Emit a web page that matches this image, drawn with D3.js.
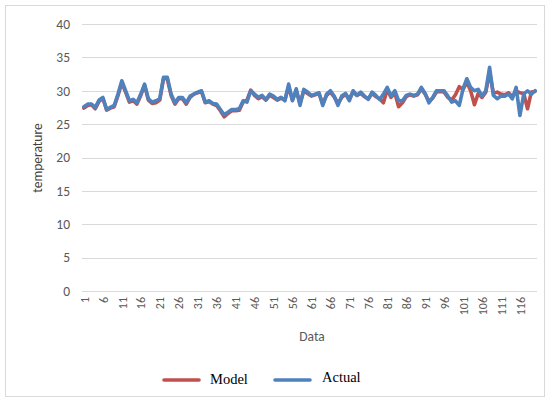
<!DOCTYPE html>
<html><head><meta charset="utf-8">
<script src="https://cdn.jsdelivr.net/npm/d3@7"></script>
<style>body{margin:0;background:#fff}svg{display:block}</style>
</head><body><svg id="c" width="549" height="401"></svg>
<script>
const categories = d3.range(1, 121);
const actual = [27.6,28,28,27.5,28.6,29,27.2,27.5,27.8,29.5,
31.5,30,28.5,28.7,28.2,29.5,31,28.8,28.3,28.5,
28.8,32,32,29.5,28.2,29,29,28.2,29.2,29.5,
29.8,30,28.3,28.5,28.1,28,27.2,26.4,26.8,27.2,
27.2,27.3,28.5,28.3,30,29.5,29,29.3,28.7,29.5,
29.2,28.7,29,28.5,31,28.5,30.3,27.8,30.2,29.8,
29.3,29.5,29.7,27.8,29.5,30,29.2,27.8,29.2,29.6,
28.5,30,29.3,29.8,29.2,28.7,29.8,29.3,28.7,29.5,
30.5,29.2,30,28.5,28.5,29.3,29.5,29.3,29.5,30.5,
29.6,28.2,29,30,30,30,29.2,28.3,28.5,27.8,
30.3,31.8,30.5,30,30.2,29.2,30,33.5,29.3,28.8,
29.2,29.2,29.5,28.8,30.5,26.3,29.5,30,29.5,30];
const model = [27.4,27.8,27.9,27.3,28.4,28.9,27.1,27.4,27.6,29.3,
31.2,29.8,28.3,28.5,28.0,29.3,30.8,28.6,28.1,28.2,
28.6,31.8,31.8,29.3,28.0,28.8,28.8,28.0,29.0,29.5,
29.7,29.9,28.2,28.4,28.0,27.8,27.0,26.1,26.6,27.0,
27.0,27.1,28.3,28.6,30.1,29.3,28.8,29.1,28.6,29.3,
29.0,28.6,28.9,28.6,30.6,28.6,30.0,28.1,30.0,29.6,
29.2,29.4,29.6,28.0,29.3,29.8,29.1,28.1,29.0,29.5,
28.8,29.8,29.3,29.6,29.1,28.8,29.6,29.1,28.8,28.2,
30.2,29.0,29.7,27.6,28.2,29.1,29.4,29.2,29.4,30.3,
29.5,28.4,28.9,29.8,29.9,29.8,29.0,28.6,29.4,30.6,
30.2,31.3,30.0,27.9,29.6,29.0,29.8,32.8,29.6,29.8,
29.5,29.4,29.7,29.1,30.0,29.7,29.6,27.3,29.8,29.9];
const yTicks = [0,5,10,15,20,25,30,35,40];
const xTickLabels = categories.filter((d,i)=>i%5===0);
const seriesNames = ["Model","Actual"];
const colors = ["#C0504D","#4F81BD"];

const svg = d3.select("#c");
svg.append("rect").attr("x",5.5).attr("y",5.5).attr("width",539).attr("height",391)
  .attr("fill","#fff").attr("stroke","#d9d9d9");

const x = d3.scalePoint().domain(categories).range([82,537]).padding(0.5);
const y = d3.scaleLinear().domain([0,40]).range([291,24]);

const g = svg.append("g");
g.selectAll("line.grid").data(yTicks).join("line")
  .attr("x1",82).attr("x2",537).attr("y1",d=>Math.round(y(d))+0.5).attr("y2",d=>Math.round(y(d))+0.5)
  .attr("stroke","#d9d9d9").attr("stroke-width",1);

const yAxis = d3.axisLeft(y).tickValues(yTicks).tickSize(0).tickPadding(0);
const ya = svg.append("g").attr("transform","translate(70,0)").call(yAxis);
ya.select(".domain").remove();
ya.selectAll("text").attr("font-family","Calibri, Carlito, 'Liberation Sans', Arial, sans-serif")
  .attr("font-size",13.5).attr("fill","#595959");

const xAxis = d3.axisBottom(x).tickValues(xTickLabels).tickSize(0).tickPadding(0);
const xa = svg.append("g").attr("transform","translate(0,295)").call(xAxis);
xa.select(".domain").remove();
xa.selectAll("text").attr("font-family","Calibri, Carlito, 'Liberation Sans', Arial, sans-serif")
  .attr("font-size",12).attr("fill","#595959")
  .attr("transform","rotate(-90)").attr("text-anchor","end").attr("dy","0.35em").attr("dx","0")
  .attr("x",-2).attr("y",0);

const line = d3.line().x((d,i)=>x(categories[i])).y(d=>y(d));
[model, actual].forEach((s,k)=>{
  svg.append("path").datum(s).attr("d",line).attr("fill","none")
    .attr("stroke",colors[k]).attr("stroke-width",3.6).attr("stroke-linejoin","round").attr("stroke-linecap","round");
});

svg.append("text").attr("transform","translate(42,158) rotate(-90)").attr("text-anchor","middle")
  .attr("font-family","Calibri, Carlito, 'Liberation Sans', Arial, sans-serif").attr("font-size",13.5).attr("fill","#404040")
  .text("temperature");
svg.append("text").attr("x",312).attr("y",341).attr("text-anchor","middle")
  .attr("font-family","Calibri, Carlito, 'Liberation Sans', Arial, sans-serif").attr("font-size",13.5).attr("fill","#595959")
  .text("Data");

const leg = [{x1:164,x2:199,tx:210},{x1:275,x2:310,tx:322}];
seriesNames.forEach((n,k)=>{
  svg.append("line").attr("x1",leg[k].x1).attr("x2",leg[k].x2).attr("y1",380).attr("y2",380)
    .attr("stroke",colors[k]).attr("stroke-width",3.6).attr("stroke-linecap","round");
  svg.append("text").attr("x",leg[k].tx).attr("y",k===0?384:382).attr("font-family","'Liberation Serif','Times New Roman',serif")
    .attr("font-size",14.5).attr("fill","#000").text(n);
});
</script></body></html>
